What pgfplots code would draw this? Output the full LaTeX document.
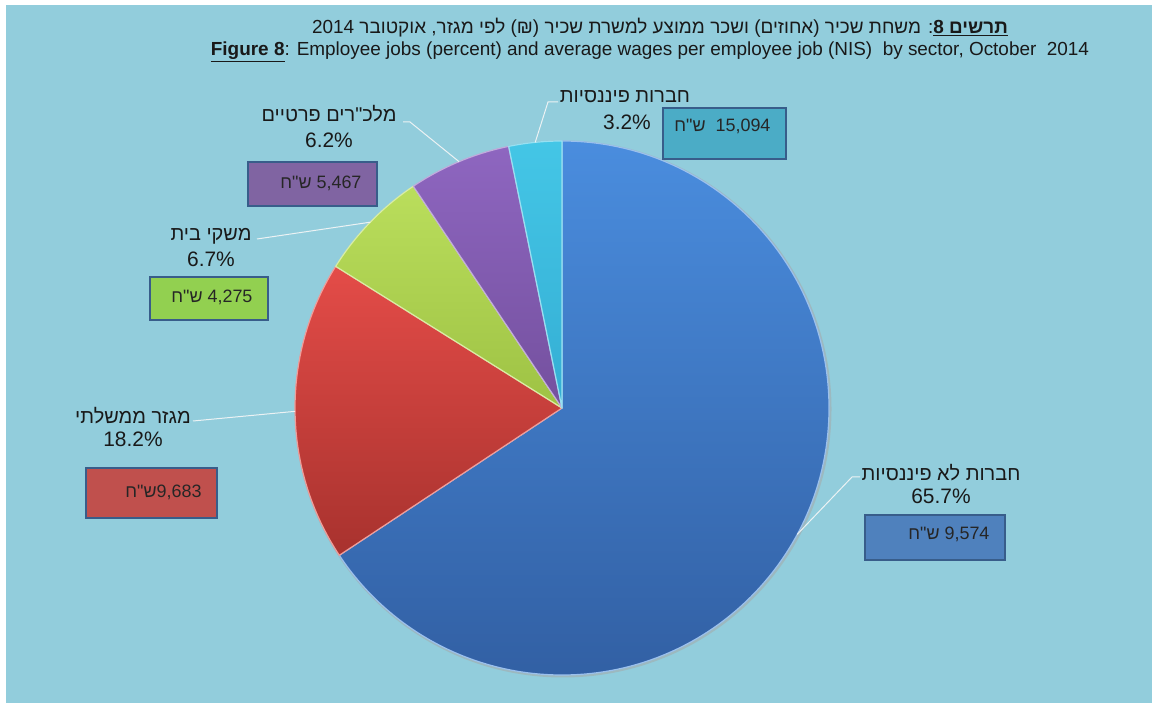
\documentclass[border=0pt]{standalone}
\usepackage{pgfplots}
\pgfplotsset{compat=1.18}
\usepackage{pgfplotstable}
\usepackage{fontspec}
\setmainfont{Liberation Sans}
\newfontfamily\hebfont[Script=Hebrew]{Liberation Sans}
\TeXXeTstate=1

\definecolor{bg}{RGB}{146,205,220}
% slice colours, top and bottom of the gradient
\definecolor{slc0}{RGB}{74,141,222}\definecolor{slcb0}{RGB}{50,96,164}
\definecolor{slc1}{RGB}{228,76,72}\definecolor{slcb1}{RGB}{168,50,46}
\definecolor{slc2}{RGB}{186,222,92}\definecolor{slcb2}{RGB}{158,194,68}
\definecolor{slc3}{RGB}{142,102,192}\definecolor{slcb3}{RGB}{116,80,158}
\definecolor{slc4}{RGB}{68,198,230}\definecolor{slcb4}{RGB}{52,174,212}
% wage boxes
\definecolor{box0}{RGB}{79,129,189}
\definecolor{box1}{RGB}{192,80,77}
\definecolor{box2}{RGB}{146,208,80}
\definecolor{box3}{RGB}{128,100,162}
\definecolor{box4}{RGB}{75,172,198}
\definecolor{boxline}{RGB}{56,93,138}
\definecolor{lead}{RGB}{236,242,244}

% share of employee jobs (%) and average wage (NIS), clockwise from 12 o'clock
\pgfplotstableread[col sep=comma]{
share,wage
65.7,9574
18.2,9683
6.7,4275
6.2,5467
3.2,15094
}\sectors

\newcommand\lbl{\hebfont\fontsize{20}{22}\selectfont}
\newcommand\pct{\fontsize{21}{23}\selectfont}
\newcommand\bxt{\hebfont\fontsize{18}{20}\selectfont}
\newcommand\ttl{\fontsize{19}{21}\selectfont}

\begin{document}
\begin{tikzpicture}
\begin{axis}[
    at={(0,0)}, anchor=south west,
    scale only axis,
    width=1152bp, height=703bp,
    xmin=0, xmax=1152, ymin=0, ymax=703,
    hide axis, clip=false,
]
\fill[white] (axis cs:-20,-20) rectangle (axis cs:1180,703);
\fill[bg] (axis cs:6,-20) rectangle (axis cs:1180,698);

% pie shadow
\fill[black!35, opacity=0.5] (axis cs:563,294) circle[radius=268.5bp];

\def\startang{90}
\pgfplotsforeachungrouped \i in {0,...,4} {
    \pgfplotstablegetelem{\i}{share}\of\sectors
    \pgfmathsetmacro\endang{\startang-3.6*\pgfplotsretval}
    \pgfmathsetmacro\midang{(\startang+\endang)/2}
    \edef\doslice{%
        \noexpand\path[top color=slc\i, bottom color=slcb\i,
            draw=white!45!slc\i, line width=1.2pt, line join=round]
            (axis cs:562,295) -- ++(\startang:267bp)
            arc[start angle=\startang, end angle=\endang, radius=267bp] -- cycle;
        \noexpand\path (axis cs:562,295) ++(\midang:267bp) coordinate (edge\i);
    }
    \doslice
    \global\let\startang\endang
}

% leader lines
\draw[lead, line width=1pt] (axis cs:860,226) -- (axis cs:852,226) -- (edge0);
\draw[lead, line width=1pt] (axis cs:193,282) -- (edge1);
\draw[lead, line width=1pt] (axis cs:257,464) -- (edge2);
\draw[lead, line width=1pt] (axis cs:403,581) -- (axis cs:410,581) -- (edge3);
\draw[lead, line width=1pt] (axis cs:558,601) -- (axis cs:548,601) -- (edge4);

% titles
\node[font=\hebfont\ttl, text=black!90] at (axis cs:660,675)
    {\beginR$\underline{\hbox{\beginR\textbf{תרשים \beginL 8\endL}\endR}}$: משחת שכיר (אחוזים) ושכר ממוצע למשרת שכיר (₪) לפי מגזר, אוקטובר \beginL 2014\endL\endR};
\node[font=\ttl, text=black!90] at (axis cs:650,651)
    {$\underline{\hbox{\textbf{Figure 8}}}$: Employee jobs (percent) and average wages per employee job (NIS)\ \ by sector, October\ \ 2014};

% sector names and shares
\node[font=\lbl, text=black!90] at (axis cs:941,230) {\beginR חברות לא פיננסיות\endR};
\node[font=\pct, text=black!90] at (axis cs:941,207) {65.7\%};
\node[font=\lbl, text=black!90] at (axis cs:133,287) {\beginR מגזר ממשלתי\endR};
\node[font=\pct, text=black!90] at (axis cs:133,264) {18.2\%};
\node[font=\lbl, text=black!90] at (axis cs:211,467) {\beginR משקי בית\endR};
\node[font=\pct, text=black!90] at (axis cs:211,444) {6.7\%};
\node[font=\lbl, text=black!90] at (axis cs:329,589) {\beginR מלכ"רים פרטיים\endR};
\node[font=\pct, text=black!90] at (axis cs:329,563) {6.2\%};
\node[font=\lbl, text=black!90] at (axis cs:625,606) {\beginR חברות פיננסיות\endR};
\node[font=\pct, text=black!90] at (axis cs:627,581) {3.2\%};

% wage boxes
\draw[boxline, line width=2.5pt, fill=box0] (axis cs:865,188) rectangle (axis cs:1005,143);
\node[font=\bxt, text=black!85, anchor=east] at (axis cs:993,169) {\beginR\beginL 9,574\endL{} ש"ח\endR};
\draw[boxline, line width=2.5pt, fill=box1] (axis cs:86,235) rectangle (axis cs:217,185);
\node[font=\bxt, text=black!85, anchor=east] at (axis cs:205,211) {\beginR\beginL 9,683\endL ש"ח\endR};
\draw[boxline, line width=2.5pt, fill=box2] (axis cs:150,426) rectangle (axis cs:268,383);
\node[font=\bxt, text=black!85, anchor=east] at (axis cs:256,406) {\beginR\beginL 4,275\endL{} ש"ח\endR};
\draw[boxline, line width=2.5pt, fill=box3] (axis cs:248,541) rectangle (axis cs:377,497);
\node[font=\bxt, text=black!85, anchor=east] at (axis cs:365,520) {\beginR\beginL 5,467\endL{} ש"ח\endR};
\draw[boxline, line width=2.5pt, fill=box4] (axis cs:663,595) rectangle (axis cs:786,544);
\node[font=\bxt, text=black!85, anchor=east] at (axis cs:774,577) {\beginR\beginL 15,094\endL{}\ \ ש"ח\endR};
\end{axis}
\pgfresetboundingbox
\path (0,0) rectangle (1152bp,703bp);
\end{tikzpicture}
\end{document}
